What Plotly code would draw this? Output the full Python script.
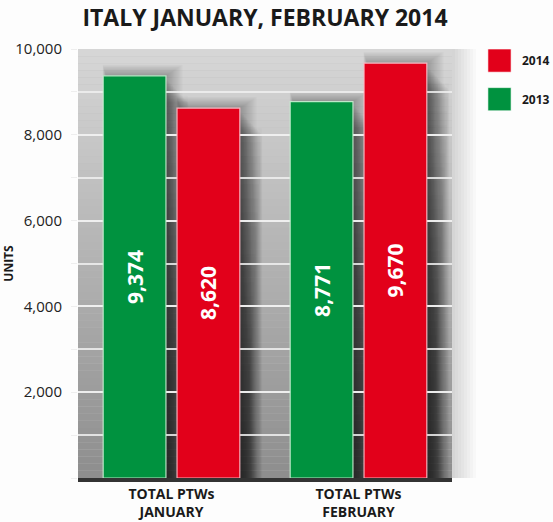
import plotly.graph_objects as go

# ---- data ----
categories = ["TOTAL PTWs<br>JANUARY", "TOTAL PTWs<br>FEBRUARY"]
series_names = ["2013", "2014"]
values_2013 = [9374, 8771]
values_2014 = [8620, 9670]
tick_values = [2000, 4000, 6000, 8000, 10000]
tick_labels = ["2,000", "4,000", "6,000", "8,000", "10,000"]

GREEN = "#00923F"
RED = "#E2001A"
FONT = "Open Sans"

BARGAP = 0.21
BARGROUPGAP = 0.15

FIG_W, FIG_H = 553, 522
M_L, M_R, M_T, M_B = 78, 101, 49, 44
PLOT_W = FIG_W - M_L - M_R
PLOT_H = FIG_H - M_T - M_B

fig = go.Figure()
series = [(series_names[0], values_2013, GREEN, "rgba(200,240,210,0.9)"),
          (series_names[1], values_2014, RED, "rgba(255,190,200,0.9)")]
for name, vals, col, edge in series:
    fig.add_trace(go.Bar(
        x=categories, y=vals, name=name,
        marker=dict(color=col, line=dict(color=edge, width=1.2)),
        texttemplate="%{y:,}", textposition="inside", insidetextanchor="middle",
        textangle=-90,
        textfont=dict(family=FONT, size=21, color="white", weight="bold"),
        showlegend=False,
    ))

shapes = []
# vertical grey gradient of plot background
N = 60
top = (214, 214, 214)
bot = (142, 142, 142)
for i in range(N):
    t = i / (N - 1)
    c = tuple(int(round(top[k] + (bot[k] - top[k]) * t)) for k in range(3))
    shapes.append(dict(type="rect", xref="x domain", yref="y domain",
                       x0=0, x1=1, y0=1 - (i + 1) / N, y1=1 - i / N,
                       fillcolor="rgb(%d,%d,%d)" % c, line=dict(width=0), layer="below"))

# soft shadow just outside the right edge of the plot area
for k in range(8):
    shapes.append(dict(type="rect", xref="paper", yref="paper",
                       x0=1.0, x1=1.0 + (k + 1) * 3.0 / PLOT_W, y0=0, y1=1,
                       fillcolor="rgba(0,0,0,0.018)", line=dict(width=0), layer="below"))

# soft shadows to the right of / above each bar (computed from bar geometry)
slot = (1 - BARGAP) / 2
half = slot * (1 - BARGROUPGAP) / 2
CAT_PX = PLOT_W / 2.0
PX_X = 1 / CAT_PX             # one pixel in category units
PX_Y = 10000.0 / PLOT_H       # one pixel in value units
for s_idx, (name, vals, col, edge) in enumerate(series):
    for c_idx, v in enumerate(vals):
        center = c_idx + (s_idx - 0.5) * slot
        right = center + half
        left = center - half
        # blurred halo above the top (goes down to the base so no edges show)
        for k in range(14):
            g = k + 1
            shapes.append(dict(type="rect", xref="x", yref="y",
                               x0=left + 3 * PX_X - g * 0.25 * PX_X, x1=right + g * 1.2 * PX_X,
                               y0=0, y1=v + g * 0.8 * PX_Y,
                               fillcolor="rgba(0,0,0,0.02)", line=dict(width=0), layer="below"))
        # shadow on right side, fading away from the bar, tops staggered for a soft edge
        for k in range(16):
            shapes.append(dict(type="rect", xref="x", yref="y",
                               x0=right, x1=right + (k + 1) * 1.4 * PX_X,
                               y0=0, y1=v - (4 + k * 1.5) * PX_Y,
                               fillcolor="rgba(0,0,0,0.026)", line=dict(width=0), layer="below"))
        # shadow gets stronger towards the base
        for j in range(22):
            shapes.append(dict(type="rect", xref="x", yref="y",
                               x0=right, x1=right + (22 - j * 0.7) * PX_X,
                               y0=0, y1=max(0, v - (20 + j * 14) * PX_Y),
                               fillcolor="rgba(0,0,0,0.016)", line=dict(width=0), layer="below"))

# custom legend (series names from data)
legend_items = [(series_names[1], RED, 1.0), (series_names[0], GREEN, 0.91)]
annotations = []
for name, col, ytop in legend_items:
    shapes.append(dict(type="rect", xref="paper", yref="paper",
                       x0=1.096, x1=1.158, y0=ytop - 0.054, y1=ytop,
                       fillcolor=col, line=dict(color="rgba(255,255,255,0.6)", width=1)))
    annotations.append(dict(xref="paper", yref="paper", x=1.183, y=ytop - 0.027,
                            text=name, showarrow=False, xanchor="left", yanchor="middle",
                            font=dict(family=FONT, size=12, color="#1a1a1a", weight="bold")))

fig.update_layout(
    width=FIG_W, height=FIG_H,
    margin=dict(l=M_L, r=M_R, t=M_T, b=M_B, autoexpand=False),
    paper_bgcolor="#fdfdfd", plot_bgcolor="#bdbdbd",
    barmode="group", bargap=BARGAP, bargroupgap=BARGROUPGAP,
    title=dict(text="ITALY JANUARY, FEBRUARY 2014", x=0.5, xref="paper", xanchor="center",
               y=1 - 18.0 / FIG_H, yref="container", yanchor="middle",
               font=dict(family=FONT, size=23, color="#1a1a1a", weight="bold")),
    font=dict(family=FONT, color="#222"),
    shapes=shapes, annotations=annotations,
    xaxis=dict(showline=True, linecolor="#333333", linewidth=4, ticks="", automargin=False,
               tickfont=dict(family=FONT, size=14, color="#1a1a1a", weight="bold"),
               showgrid=False),
    yaxis=dict(range=[0, 10000], tickvals=tick_values, ticktext=tick_labels, automargin=False,
               showgrid=True, gridcolor="rgba(240,240,240,0.85)", gridwidth=1.5,
               minor=dict(dtick=1000, showgrid=True, gridcolor="rgba(240,240,240,0.85)",
                          gridwidth=1.5, ticks="outside", ticklen=6, tickcolor="#eeeeee"),
               ticks="outside", ticklen=6, tickcolor="#eeeeee", ticklabelstandoff=6,
               tickfont=dict(family=FONT, size=15, color="#222"),
               zeroline=False, showline=False,
               title=dict(text="UNITS", standoff=0,
                          font=dict(family=FONT, size=12, color="#1a1a1a", weight="bold"))),
)

fig.write_html(
    "out.html",
    config={"displayModeBar": False},
    post_script="document.body.style.margin='0px';document.documentElement.style.overflow='hidden';",
)
